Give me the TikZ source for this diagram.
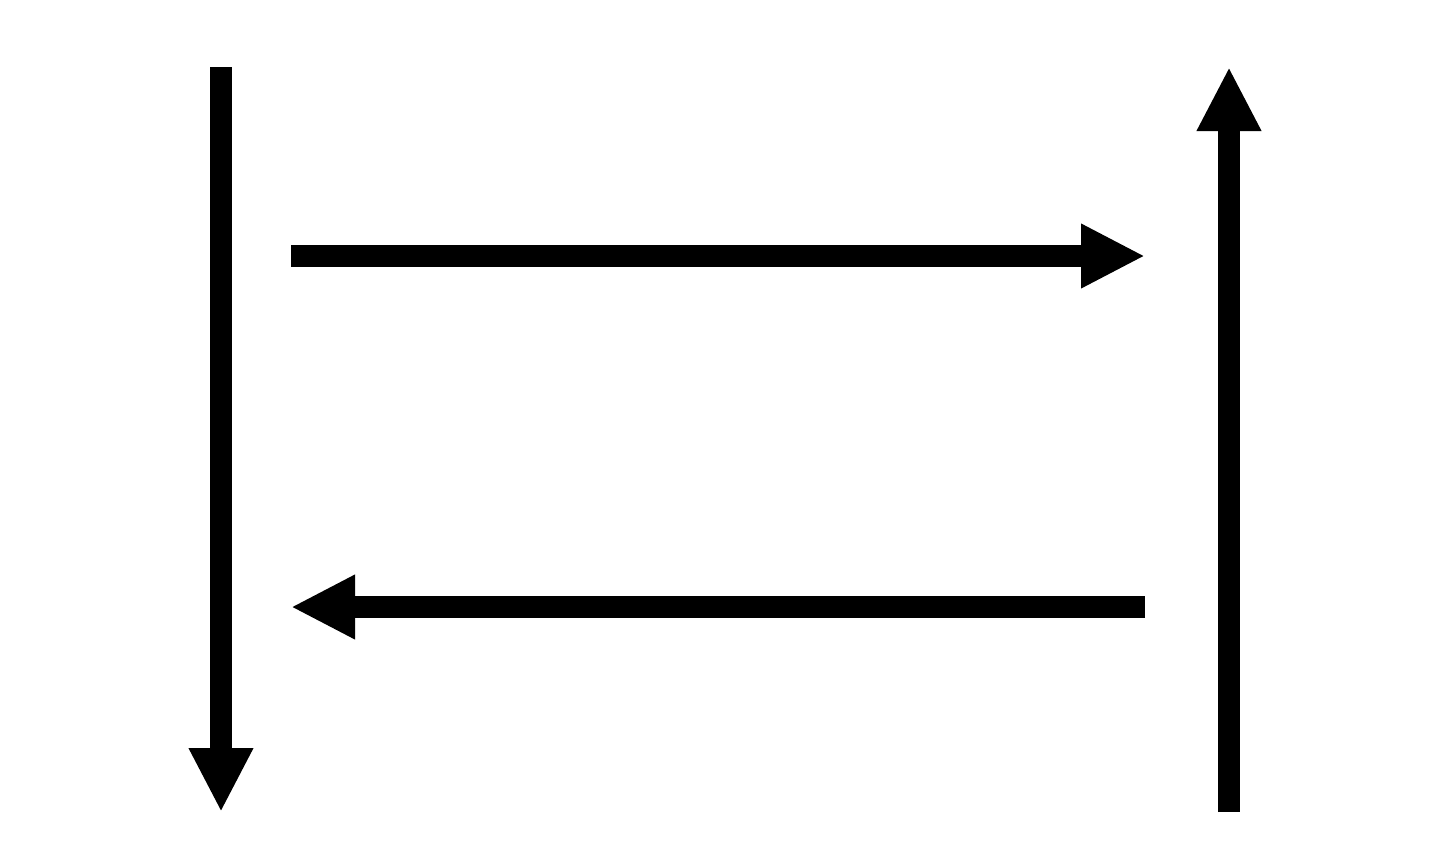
\documentclass[tikz,border=0pt]{standalone}
\usetikzlibrary{arrows.meta}
\begin{document}
\begin{tikzpicture}[x=1pt,y=-1pt,
  flow/.style={line width=22pt,-{Triangle[length=64pt,width=60pt]}}]
\useasboundingbox (0,0) rectangle (1440,849);
\coordinate (l1) at (221,67);
\coordinate (l2) at (221,812);
\coordinate (t1) at (291,256);
\coordinate (t2) at (1145,256);
\coordinate (b1) at (1145,607);
\coordinate (b2) at (291,607);
\coordinate (r1) at (1229,812);
\coordinate (r2) at (1229,67);
\draw[flow] (l1) -- (l2);
\draw[flow] (t1) -- (t2);
\draw[flow] (b1) -- (b2);
\draw[flow] (r1) -- (r2);
\end{tikzpicture}
\end{document}
